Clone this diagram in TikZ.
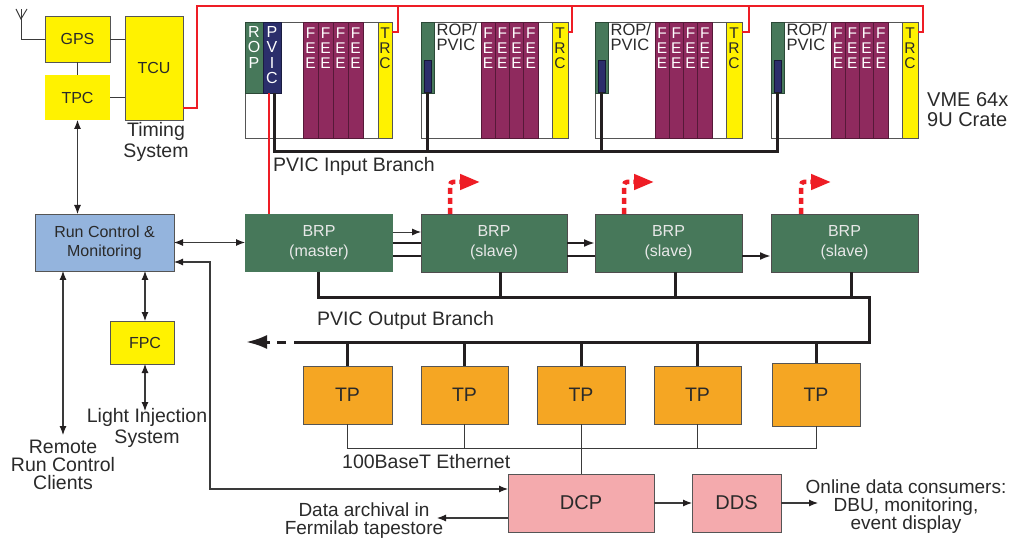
\documentclass[tikz,border=0pt]{standalone}
\usepackage{fontspec}
\setmainfont{Liberation Sans}
\usetikzlibrary{arrows.meta,calc}
\definecolor{cyel}{HTML}{FFF200}
\definecolor{cgrn}{HTML}{47785A}
\definecolor{cnavy}{HTML}{2B2E6B}
\definecolor{cmar}{HTML}{8F2A5E}
\definecolor{cblue}{HTML}{94B4DD}
\definecolor{corg}{HTML}{F5A623}
\definecolor{cpink}{HTML}{F4AAAD}
\definecolor{cred}{HTML}{EE1D25}
\definecolor{cdark}{HTML}{231F20}
\definecolor{cline}{HTML}{3A3A3A}
\definecolor{cbord}{HTML}{555555}
\definecolor{ctxt}{HTML}{2A2A2A}
\definecolor{clight}{HTML}{E8E8E8}
\begin{document}
\begin{tikzpicture}[x=1pt,y=-1pt,
  box/.style={draw=cbord, line width=0.9pt, inner sep=0pt, outer sep=0pt, anchor=north west, align=center, text=ctxt, font=\fontsize{16}{19}\selectfont},
  slot/.style={draw=#1, line width=0.6pt, inner sep=0pt, outer sep=0pt, anchor=north west},
  stack/.style={inner sep=0pt, anchor=north, align=center, font=\fontsize{15.5}{15}\selectfont},
  lbl/.style={inner sep=0pt, text=ctxt, align=center, font=\fontsize{19.5}{20}\selectfont},
  conn/.style={draw=cline, line width=1.1pt},
  dbl/.style={conn, {Latex[length=9pt,width=7pt,color=cdark]}-{Latex[length=9pt,width=7pt,color=cdark]}},
  arr/.style={conn, -{Latex[length=9pt,width=7pt,color=cdark]}},
  medline/.style={draw=cdark, line width=2pt},
  medarr/.style={medline, -{Latex[length=11pt,width=8pt]}},
  bus/.style={draw=cdark, line width=3pt},
  eth/.style={draw=cline, line width=0.9pt},
  redthin/.style={draw=cred, line width=1.2pt},
  redthick/.style={draw=cred, line width=2.5pt},
  reddash/.style={draw=cred, line width=4.5pt, dash pattern=on 6pt off 4pt, rounded corners=3pt, -{Triangle[length=20pt,width=15pt]}},
]
\fill[white] (0,0) rectangle (1018,540);
\useasboundingbox (0,0) rectangle (1018,540);

% ---------- timing system ----------
\node[box, fill=cyel, minimum width=65pt, minimum height=46pt] (gps) at (45,16) {GPS};
\node[box, draw=none, fill=cyel, minimum width=65pt, minimum height=45pt] (tpc) at (45,75) {TPC};
\node[box, fill=cyel, minimum width=58pt, minimum height=104pt] (tcu) at (125,16) {TCU};
\node[lbl, font=\fontsize{19.5}{21}\selectfont] (timing) at (156,142) {Timing\\System};
\coordinate (ant) at (21,19);
\draw[conn, line width=0.9pt] (gps.west) -- (ant |- gps.west) -- (ant);
\draw[conn, line width=0.9pt] (16,9) -- (ant) -- (27,9);
\draw[conn, line width=0.9pt] (ant) -- (21,9);
\draw[conn, line width=0.9pt] (gps.east) -- (tcu.west |- gps.east);
\draw[conn, line width=0.9pt] (tpc.east) -- (tcu.west |- tpc.east);
\draw[conn, line width=0.9pt] (gps.south) -- (tpc.north);

% ---------- crate 1 ----------
\node[slot=cbord, fill=white, minimum width=147pt, minimum height=116pt] (crate1) at (245,22) {};
\node[slot=cgrn!60!black, fill=cgrn, minimum width=18pt, minimum height=71pt] (rop1) at (245,22) {};
\node[slot=cnavy!60!black, fill=cnavy, minimum width=18pt, minimum height=71pt] (pvic1) at (263,22) {};
\node[stack, text=white, font=\fontsize{16}{15.3}\selectfont] at (254,26.3) {R\\O\\P};
\node[stack, text=white, font=\fontsize{16}{15.3}\selectfont] at (272,26.3) {P\\V\\I\\C};
\foreach \k in {0,...,3}{
  \node[slot=cmar!60!black, fill=cmar, minimum width=15pt, minimum height=116pt] at (303+\k*15,22) {};
  \node[stack, text=white] at (310.5+\k*15,27.5) {F\\E\\E};
}
\node[slot=cbord, fill=cyel, minimum width=14pt, minimum height=116pt] (trc1) at (378,22) {};
\node[stack, text=ctxt] at (385,27.5) {T\\R\\C};

% ---------- crates 2-4 ----------
\foreach \i/\x in {2/421,3/595,4/771}{
  \node[slot=cbord, fill=white, minimum width=147pt, minimum height=116pt] (crate\i) at (\x,22) {};
  \node[slot=cgrn!60!black, fill=cgrn, minimum width=13pt, minimum height=71pt] (rop\i) at (\x,22) {};
  \node[slot=cnavy!50!black, fill=cnavy, minimum width=7pt, minimum height=32pt] (pv\i) at (\x+3,60) {};
  \node[inner sep=0pt, anchor=north west, align=left, text=ctxt, font=\fontsize{16.5}{14.5}\selectfont] at (\x+15.5,23.5) {ROP/\\PVIC};
  \foreach \k in {0,...,3}{
    \node[slot=cmar!60!black, fill=cmar, minimum width=14.25pt, minimum height=116pt] at (\x+60+\k*14.25,22) {};
    \node[stack, text=white] at (\x+67.1+\k*14.25,27.5) {F\\E\\E};
  }
  \node[slot=cbord, fill=cyel, minimum width=16pt, minimum height=116pt] (trc\i) at (\x+131,22) {};
  \node[stack, text=ctxt] at (\x+139,27.5) {T\\R\\C};
}
\node[lbl, anchor=west, align=left, font=\fontsize{20}{20}\selectfont] (vme) at (927,110) {VME 64x\\9U Crate};

% red timing distribution
\draw[redthin] (tcu.east |- 0,108) -- (197,108) -- (197,6) -- (923,6) -- (923,32) -- (trc4.east |- 0,32);
\foreach \i/\rx in {1/398,2/572,3/749}{
  \draw[redthin] (\rx,6) -- (\rx,32) -- (trc\i.east |- 0,32);
}

% PVIC input branch
\draw[bus] (pvic1.south -| 274,0) -- (274,152) -| (pv4.south);
\draw[bus] (pv2.south) -- (pv2.south |- 0,152);
\draw[bus] (pv3.south) -- (pv3.south |- 0,152);
\node[lbl, anchor=west] (pib) at (273,166) {PVIC Input Branch};

% ---------- BRPs ----------
\node[box, draw=none, fill=cgrn, text=clight, minimum width=148pt, minimum height=58pt, font=\fontsize{16}{20}\selectfont] (brpm) at (245,214) {BRP\\(master)};
\node[box, draw=cdark!80, fill=cgrn, text=clight, minimum width=146pt, minimum height=58pt, font=\fontsize{16}{20}\selectfont] (brp1) at (421,214) {BRP\\(slave)};
\node[box, draw=cdark!80, fill=cgrn, text=clight, minimum width=147pt, minimum height=58pt, font=\fontsize{16}{20}\selectfont] (brp2) at (595,214) {BRP\\(slave)};
\node[box, draw=cdark!80, fill=cgrn, text=clight, minimum width=147pt, minimum height=58pt, font=\fontsize{16}{20}\selectfont] (brp3) at (771,214) {BRP\\(slave)};
\draw[redthick] (pvic1.south -| 269,0) -- (brpm.north -| 269,0);

\draw[arr, line width=0.9pt] (brpm.east |- 0,232) -- (brp1.west |- 0,232);
\draw[medline] (brpm.east |- 0,243) -- (brp1.west |- 0,243);
\draw[medarr] (brp1.east |- 0,243) -- (brp2.west |- 0,243);
\draw[medline] (brpm.east |- 0,256) -- (brp1.west |- 0,256);
\draw[medline] (brp1.east |- 0,256) -- (brp2.west |- 0,256);
\draw[medarr] (brp2.east |- 0,256) -- (brp3.west |- 0,256);

\draw[reddash] (brp1.north -| 450,0) -- (450,182) -- (480,182);
\draw[reddash] (brp2.north -| 624,0) -- (624,182) -- (654,182);
\draw[reddash] (brp3.north -| 801,0) -- (801,182) -- (831,182);

% PVIC output branch
\coordinate (obend) at (246,342);
\coordinate (obdash) at (270,342);
\draw[bus] (brpm.south -| 318,0) -- (318,298) -- (869,298) -- (869,342) -- (303,342);
\draw[bus] (brp1.south -| 500,0) -- (500,298);
\draw[bus] (brp2.south -| 675,0) -- (675,298);
\draw[bus] (brp3.south -| 851,0) -- (851,298);
\draw[bus, dash pattern=on 9pt off 8pt] (303,342) -- (obdash);
\draw[bus, -{Latex[length=21pt,width=14pt]}] (obdash) -- (obend);
\node[lbl, anchor=west] (pob) at (317,320) {PVIC Output Branch};

% ---------- TPs ----------
\node[box, fill=corg, minimum width=89pt, minimum height=58pt, font=\fontsize{19.5}{20}\selectfont] (tp1) at (303,366) {TP};
\node[box, fill=corg, minimum width=87pt, minimum height=58pt, font=\fontsize{19.5}{20}\selectfont] (tp2) at (421,366) {TP};
\node[box, fill=corg, minimum width=88pt, minimum height=58pt, font=\fontsize{19.5}{20}\selectfont] (tp3) at (537,366) {TP};
\node[box, fill=corg, minimum width=87pt, minimum height=58pt, font=\fontsize{19.5}{20}\selectfont] (tp4) at (654,366) {TP};
\node[box, fill=corg, minimum width=88pt, minimum height=63pt, font=\fontsize{19.5}{20}\selectfont] (tp5) at (772,363) {TP};
\foreach \i in {1,...,5}{
  \draw[bus] (tp\i.north) -- (tp\i.north |- 0,342);
}
\draw[eth] (tp1.south) -- (tp1.south |- 0,448) -- (tp5.south |- 0,448) -- (tp5.south);
\draw[eth] (tp2.south) -- (tp2.south |- 0,448);
\draw[eth] (tp4.south) -- (tp4.south |- 0,448);
\node[lbl, anchor=west] (eth) at (342,462) {100BaseT Ethernet};

% ---------- DCP / DDS ----------
\node[box, fill=cpink, minimum width=146pt, minimum height=58pt, font=\fontsize{20}{20}\selectfont] (dcp) at (508,474) {DCP};
\node[box, fill=cpink, minimum width=89pt, minimum height=58pt, font=\fontsize{20}{20}\selectfont] (dds) at (692,474) {DDS};
\draw[eth] (tp3.south) -- (dcp.north -| tp3.south);
\draw[arr] (dcp.east) -- (dds.west);
\coordinate (online) at (818,503);
\draw[arr] (dds.east) -- (online);
\node[lbl, font=\fontsize{19}{18}\selectfont] (cons) at (906,507) {Online data consumers:\\DBU, monitoring,\\event display};
\coordinate (arch) at (437,518);
\draw[arr] (dcp.west |- arch) -- (arch);
\node[lbl, font=\fontsize{19}{18}\selectfont] (archtxt) at (364,521) {Data archival in\\Fermilab tapestore};

% ---------- run control ----------
\node[box, fill=cblue, minimum width=139pt, minimum height=57pt] (rc) at (35,214) {Run Control \&\\Monitoring};
\node[box, fill=cyel, minimum width=64pt, minimum height=43pt] (fpc) at (110,321) {\hspace*{6pt}FPC};
\draw[dbl] (tpc.south) -- (rc.north -| tpc.south);
\draw[dbl] (rc.east) -- (brpm.west |- rc.east);
\draw[dbl] (rc.east |- 0,262) -| (210,489) -- (dcp.west |- 0,489);
\coordinate (remtop) at (63,435);
\draw[dbl] (rc.south -| remtop) -- (remtop);
\node[lbl, font=\fontsize{19.5}{18}\selectfont] (remote) at (63,465) {Remote\\Run Control\\Clients};
\draw[dbl] (rc.south -| 145,0) -- (fpc.north -| 145,0);
\coordinate (litop) at (145,411);
\draw[dbl] (fpc.south -| litop) -- (litop);
\node[lbl, font=\fontsize{19.5}{21}\selectfont] (light) at (147,428) {Light Injection\\System};
\end{tikzpicture}
\end{document}
